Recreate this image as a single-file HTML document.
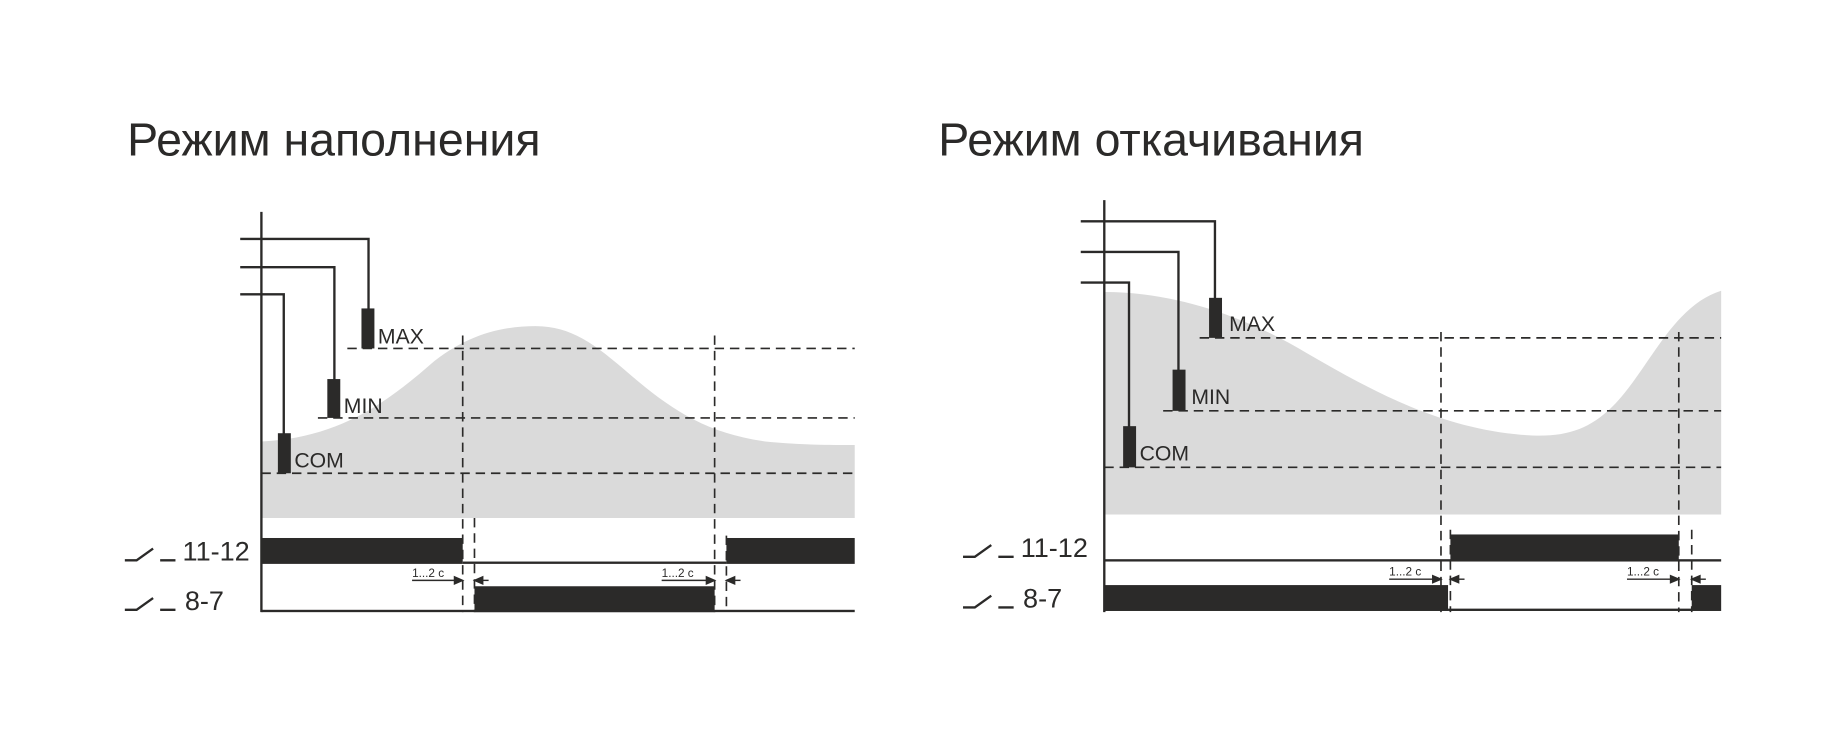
<!DOCTYPE html>
<html><head><meta charset="utf-8"><style>
html,body{margin:0;padding:0;background:#fff;width:1846px;height:734px;overflow:hidden}
svg{display:block}
text{font-family:"Liberation Sans",sans-serif;fill:#2b2a29}
</style></head><body>
<svg width="1846" height="734" viewBox="0 0 1568 623.5" xmlns="http://www.w3.org/2000/svg">
<rect width="1568" height="624" fill="#fff"/>
<!-- LEFT -->
<text x="108" y="132" font-size="39.5">Режим наполнения</text>
<path d="M222,375 C285,372 325,345 365,310 C395,285 425,277 455,277 C485,277 505,292 535,318 C570,348 600,368 650,375 C680,378 705,378 726,378 L726,440 L222,440 Z" fill="#dadada"/>
<g stroke="#2b2a29" fill="none" stroke-width="2">
<line x1="222" y1="180" x2="222" y2="520"/>
<polyline points="204,203 313,203 313,264"/>
<polyline points="204,227 284,227 284,323"/>
<polyline points="204,250 241,250 241,370"/>
</g>
<g fill="#2b2a29">
<rect x="307" y="262" width="11" height="34"/>
<rect x="278" y="322" width="11" height="33"/>
<rect x="236" y="368" width="11" height="34"/>
</g>
<g stroke="#2b2a29" stroke-width="1.4" stroke-dasharray="8,5" fill="none">
<line x1="295" y1="296" x2="726" y2="296"/>
<line x1="270" y1="355" x2="726" y2="355"/>
<line x1="222" y1="402" x2="726" y2="402"/>
<line x1="393" y1="285" x2="393" y2="520"/>
<line x1="403" y1="440" x2="403" y2="520"/>
<line x1="607" y1="285" x2="607" y2="520"/>
<line x1="617" y1="455" x2="617" y2="520"/>
</g>
<text x="321" y="292" font-size="18">MAX</text>
<text x="292" y="351" font-size="18">MIN</text>
<text x="250" y="397" font-size="18">COM</text>
<g fill="#2b2a29">
<rect x="222" y="457" width="171" height="22"/>
<rect x="617" y="457" width="109" height="22"/>
<rect x="393" y="477" width="224" height="2"/>
<rect x="403" y="498" width="204" height="22"/>
<rect x="222" y="518" width="504" height="2"/>
</g>
<g stroke="#2b2a29" stroke-width="1.2" fill="#2b2a29">
<line x1="350" y1="493" x2="388" y2="493"/><path d="M393,493 l-7,-3 v6z"/>
<line x1="408" y1="493" x2="415" y2="493"/><path d="M403,493 l7,-3 v6z"/>
<line x1="562" y1="493" x2="602" y2="493"/><path d="M607,493 l-7,-3 v6z"/>
<line x1="622" y1="493" x2="629" y2="493"/><path d="M617,493 l7,-3 v6z"/>
</g>
<text x="350" y="490" font-size="10">1...2 с</text>
<text x="562" y="490" font-size="10">1...2 с</text>
<g stroke="#2b2a29" stroke-width="2" fill="none">
<path d="M106,476 h10 l14,-10 M136,476 h13"/>
<path d="M106,518 h10 l14,-10 M136,518 h13"/>
</g>
<text x="155" y="476" font-size="23">11-12</text>
<text x="157" y="518" font-size="23">8-7</text>
<!-- RIGHT -->
<text x="797" y="132" font-size="39.5">Режим откачивания</text>
<path d="M938,248 C1000,248 1060,270 1110,300 C1170,335 1220,360 1280,368 C1320,373 1345,370 1370,345 C1400,315 1420,260 1462,247 L1462,437 L938,437 Z" fill="#dadada"/>
<g stroke="#2b2a29" fill="none" stroke-width="2">
<line x1="938" y1="170" x2="938" y2="520"/>
<polyline points="918,188 1032,188 1032,254"/>
<polyline points="918,214 1001,214 1001,315"/>
<polyline points="918,240 959,240 959,363"/>
</g>
<g fill="#2b2a29">
<rect x="1027" y="253" width="11" height="34"/>
<rect x="996" y="314" width="11" height="35"/>
<rect x="954" y="362" width="11" height="35"/>
</g>
<g stroke="#2b2a29" stroke-width="1.4" stroke-dasharray="8,5" fill="none">
<line x1="1019" y1="287" x2="1462" y2="287"/>
<line x1="988" y1="349" x2="1462" y2="349"/>
<line x1="938" y1="397" x2="1462" y2="397"/>
<line x1="1224" y1="282" x2="1224" y2="520"/>
<line x1="1232" y1="450" x2="1232" y2="520"/>
<line x1="1426" y1="282" x2="1426" y2="520"/>
<line x1="1437" y1="450" x2="1437" y2="520"/>
</g>
<text x="1044" y="281" font-size="18">MAX</text>
<text x="1012" y="343" font-size="18">MIN</text>
<text x="968" y="391" font-size="18">COM</text>
<g fill="#2b2a29">
<rect x="938" y="475" width="524" height="2"/>
<rect x="1232" y="454" width="194" height="22"/>
<rect x="938" y="497" width="292" height="22"/>
<rect x="1437" y="497" width="25" height="22"/>
<rect x="1230" y="517" width="207" height="2"/>
</g>
<g stroke="#2b2a29" stroke-width="1.2" fill="#2b2a29">
<line x1="1180" y1="492" x2="1219" y2="492"/><path d="M1224,492 l-7,-3 v6z"/>
<line x1="1237" y1="492" x2="1244" y2="492"/><path d="M1232,492 l7,-3 v6z"/>
<line x1="1382" y1="492" x2="1421" y2="492"/><path d="M1426,492 l-7,-3 v6z"/>
<line x1="1442" y1="492" x2="1449" y2="492"/><path d="M1437,492 l7,-3 v6z"/>
</g>
<text x="1180" y="489" font-size="10">1...2 с</text>
<text x="1382" y="489" font-size="10">1...2 с</text>
<g stroke="#2b2a29" stroke-width="2" fill="none">
<path d="M818,473 h10 l14,-10 M848,473 h13"/>
<path d="M818,516 h10 l14,-10 M848,516 h13"/>
</g>
<text x="867" y="473" font-size="23">11-12</text>
<text x="869" y="516" font-size="23">8-7</text>
</svg>
</body></html>
